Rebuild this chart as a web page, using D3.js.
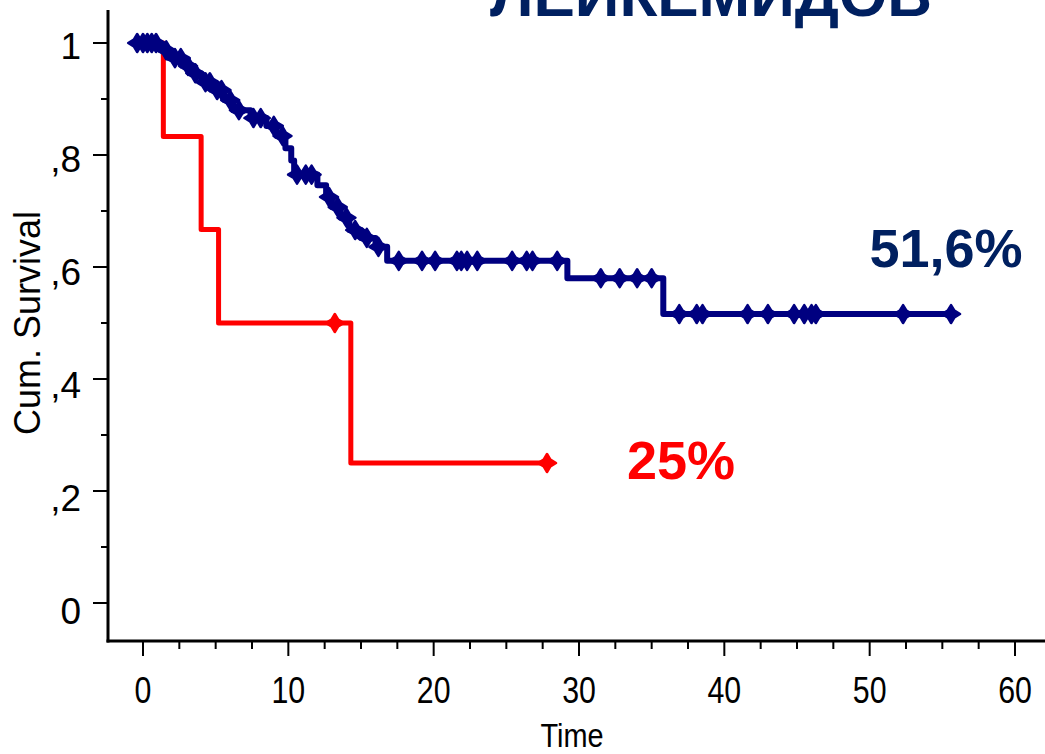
<!DOCTYPE html>
<html>
<head>
<meta charset="utf-8">
<script src="https://cdn.jsdelivr.net/npm/d3@7"></script>
<style>
  html, body { margin: 0; padding: 0; background: #fff; }
  svg { display: block; }
  text { font-family: "Liberation Sans", Arial, sans-serif; }
</style>
</head>
<body>
<svg id="chart" width="1045" height="754"></svg>
<script>
// Kaplan–Meier data, time in months
const xTickValues = [0, 10, 20, 30, 40, 50, 60];
const yTickValues = [0, 0.2, 0.4, 0.6, 0.8, 1];
const yTickLabels = ["0", ",2", ",4", ",6", ",8", "1"];

// Group 1 (navy): event times and survival after each event
const blueEventTimes = [1.2, 1.8, 2.8, 3.3, 4.0, 4.8, 5.6, 6.2, 7.4, 8.5, 9.2, 9.8, 10.2, 10.4,
                        12.0, 12.6, 13.0, 13.6, 14.2, 15.0, 16.0, 16.8, 29.2, 35.8];
const blueSurvival   = [0.987, 0.973, 0.959, 0.946, 0.930, 0.916, 0.898, 0.880, 0.866, 0.852,
                        0.834, 0.812, 0.790, 0.765, 0.746, 0.725, 0.707, 0.688, 0.666, 0.652,
                        0.636, 0.611, 0.580, 0.516];
const blueCensorTimes = [-0.4, 0.0, 0.3, 0.6, 0.9, 1.6, 2.2, 2.6, 3.1, 3.6, 4.3, 4.6, 5.1, 5.4, 6.0,
                         6.6, 7.6, 8.1, 9.0, 9.6, 10.6, 11.2, 11.6, 12.8, 13.4, 14.0, 14.6, 15.4,
                         16.2, 17.6, 19.2, 20.1, 21.6, 21.9, 22.3, 23.0, 25.4, 26.4, 26.8, 28.5,
                         31.5, 32.8, 34.0, 35.0, 36.9, 38.1, 38.5, 41.6, 43.0, 44.8, 45.5, 46.0,
                         46.3, 52.3, 55.6];

// Group 2 (red)
const redEventTimes = [1.4, 4.0, 5.2, 14.3];
const redSurvival   = [0.833, 0.667, 0.5, 0.25];
const redCensorTimes = [13.2, 27.8];

const titleText = "ЛЕЙКЕМИДОВ";
const blueLabel = "51,6%";
const redLabel = "25%";

const svg = d3.select("#chart");
const W = 1045, H = 754;

const x = d3.scaleLinear().domain([0, 60]).range([143, 1015]);
const y = d3.scaleLinear().domain([0, 1]).range([603, 43]);

const axisX = 108, axisY = 641;

// Title (runs off the top edge)
svg.append("text")
  .attr("x", 711).attr("y", 16)
  .attr("text-anchor", "middle")
  .attr("font-size", 62).attr("font-weight", "bold")
  .attr("fill", "#002060")
  .text(titleText);

// Axis lines
svg.append("line").attr("x1", axisX).attr("x2", axisX).attr("y1", 10).attr("y2", axisY + 1.5)
  .attr("stroke", "#000").attr("stroke-width", 3);
svg.append("line").attr("x1", axisX - 1.5).attr("x2", W).attr("y1", axisY).attr("y2", axisY)
  .attr("stroke", "#000").attr("stroke-width", 3);

// Y ticks
const yMinor = d3.range(0.1, 1, 0.2);
svg.append("g").selectAll("line").data(yTickValues).join("line")
  .attr("x1", axisX - 15).attr("x2", axisX).attr("y1", d => y(d)).attr("y2", d => y(d))
  .attr("stroke", "#000").attr("stroke-width", 2);
svg.append("g").selectAll("line").data(yMinor).join("line")
  .attr("x1", axisX - 7).attr("x2", axisX).attr("y1", d => y(d)).attr("y2", d => y(d))
  .attr("stroke", "#000").attr("stroke-width", 2);
svg.append("g").selectAll("text").data(yTickValues).join("text")
  .attr("x", 81).attr("y", d => y(d) + 16 + 5 * (1 - d))
  .attr("text-anchor", "end")
  .attr("font-size", 37)
  .text((d, i) => yTickLabels[i]);

// X ticks
const xMinor = d3.range(-2.5, 62, 2.5).filter(d => d % 10 !== 0);
svg.append("g").selectAll("line").data(xTickValues).join("line")
  .attr("x1", d => x(d)).attr("x2", d => x(d)).attr("y1", axisY).attr("y2", axisY + 15)
  .attr("stroke", "#000").attr("stroke-width", 2);
svg.append("g").selectAll("line").data(xMinor.filter(d => x(d) > axisX + 2 && x(d) < W)).join("line")
  .attr("x1", d => x(d)).attr("x2", d => x(d)).attr("y1", axisY).attr("y2", axisY + 8)
  .attr("stroke", "#000").attr("stroke-width", 2);
svg.append("g").selectAll("text").data(xTickValues).join("text")
  .attr("transform", d => `translate(${x(d)},${703}) scale(0.82,1)`)
  .attr("text-anchor", "middle")
  .attr("font-size", 37)
  .text(d => d);

// Axis titles
svg.append("text")
  .attr("transform", `translate(572,747) scale(0.85,1)`)
  .attr("text-anchor", "middle").attr("font-size", 34)
  .text("Time");
svg.append("text")
  .attr("transform", `translate(40,323) rotate(-90)`)
  .attr("text-anchor", "middle").attr("font-size", 36)
  .text("Cum. Survival");

// Step curves
function stepPoints(times, surv, endTime) {
  const pts = [[0, 1]];
  times.forEach((t, i) => pts.push([t, surv[i]]));
  pts.push([endTime, surv[surv.length - 1]]);
  return pts;
}
function survivalAt(times, surv, t) {
  let s = 1;
  times.forEach((et, i) => { if (et <= t) s = surv[i]; });
  return s;
}
const line = d3.line().x(d => x(d[0])).y(d => y(d[1])).curve(d3.curveStepAfter);

// Censor mark: four-pointed plus
const censorPath = "M0,-9 L3.4,-3.4 L9,0 L3.4,3.4 L0,9 L-3.4,3.4 L-9,0 L-3.4,-3.4 Z";

function drawGroup(evTimes, surv, censTimes, color, width) {
  const endTime = d3.max(censTimes);
  svg.append("path")
    .datum(stepPoints(evTimes, surv, endTime))
    .attr("d", line)
    .attr("fill", "none").attr("stroke", color)
    .attr("stroke-width", width).attr("stroke-linejoin", "round");
  svg.append("g").selectAll("path").data(censTimes).join("path")
    .attr("transform", t => `translate(${x(t)},${y(survivalAt(evTimes, surv, t))})`)
    .attr("d", censorPath)
    .attr("fill", color).attr("stroke", color).attr("stroke-width", 2.5)
    .attr("stroke-linejoin", "round");
}

drawGroup(redEventTimes, redSurvival, redCensorTimes, "#ff0000", 5);
drawGroup(blueEventTimes, blueSurvival, blueCensorTimes, "#000080", 6);

// End-point labels
svg.append("text")
  .attr("x", 946).attr("y", 267).attr("text-anchor", "middle")
  .attr("font-size", 54).attr("font-weight", "bold").attr("fill", "#002060")
  .text(blueLabel);
svg.append("text")
  .attr("x", 681).attr("y", 479).attr("text-anchor", "middle")
  .attr("font-size", 54).attr("font-weight", "bold").attr("fill", "#ff0000")
  .text(redLabel);
</script>
</body>
</html>
